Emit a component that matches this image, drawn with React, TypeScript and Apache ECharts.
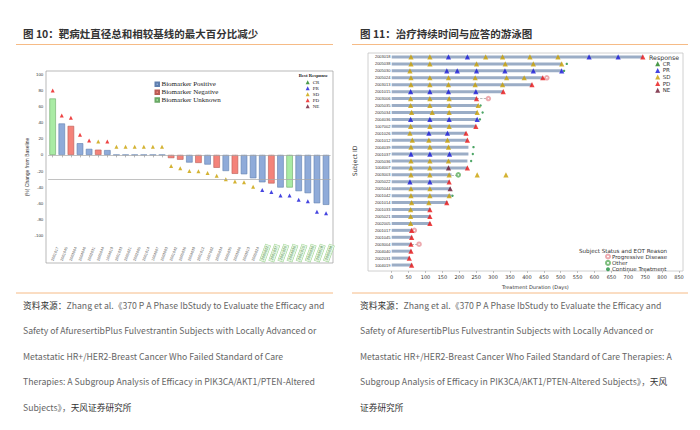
import React, { useEffect, useRef } from "react";
import * as echarts from "echarts";

// ---------- Figure 10: waterfall ----------
const waterfallIds = [
  "2001017", "2001045", "2003004", "2004040", "2002031", "2005044", "1004019",
  "2001033", "2005021", "2002005", "2001014", "1004007", "2003003", "2001042",
  "2005036", "2004039", "2001012", "1007002", "2005034", "2005035", "2003006",
  "2003013", "2005024", "2005022", "2001037", "2001026", "2004036", "2001015",
  "2005030", "2003018", "2005038",
];
const waterfallChange = [
  70, 39, 36, 14.5, 7.5, 6.5, 6, 0, 0, 0, 0, 0, 0, -4, -6, -9.5, -10, -12, -16,
  -20, -23.5, -24, -29, -34, -35.5, -40.5, -40.5, -45, -47.5, -60, -62,
];
const biomarkerStatus = [
  "Unknown", "Positive", "Negative", "Positive", "Positive", "Negative", "Positive",
  "Positive", "Positive", "Positive", "Positive", "Positive", "Positive",
  "Negative", "Negative", "Positive", "Negative", "Positive", "Negative", "Positive",
  "Negative", "Positive", "Positive", "Positive", "Negative", "Positive", "Unknown",
  "Positive", "Positive", "Positive", "Positive",
];
const bestResponse = [
  "PD", "PD", "PD", "PD", "PD", "SD", "PD", "SD", "SD", "SD", "SD", "SD", "SD",
  "SD", "SD", "SD", "SD", "SD", "SD", "SD", "SD", "SD", "SD",
  "PR", "PR", "PR", "PR", "PR", "PR", "PR", "PR",
];
const responseMarkY = [
  80, 49, 46, 25, 18, 16.5, 16.5, 10, 10, 10, 10, 10, 10, -13.7, -16.6, -19.9,
  -20.3, -22.4, -26, -30.2, -33.1, -34, -39.4, -43.5, -46, -50.5, -50.5, -55.5,
  -57.6, -70.4, -72.5,
];
const referenceLines = [0, -30];

// ---------- Figure 11: swimmer ----------
const subjectIds = [
  "2003018", "2005038", "2005030", "2005024", "2003013", "2001015", "2003006",
  "2005035", "2005034", "2004036", "1007002", "2001026", "2001012", "2004039",
  "2001037", "2005036", "1004007", "2003003", "2005022", "2005044", "2001042",
  "2001014", "2001033", "2005021", "2002005", "2001017", "2001045", "2003004",
  "2004040", "2002031", "1004019",
];
const treatmentDays = [
  743, 503, 503, 447, 415, 330, 251, 256, 253, 253, 249, 220, 224, 227, 227, 224,
  224, 177, 172, 175, 177, 165, 115, 115, 115, 61, 61, 59, 59, 54, 61,
];
const crMarks: [string, number][] = [];
const prMarks: [string, number][] = [
  ["2003018", 168], ["2003018", 224], ["2003018", 584], ["2003018", 670],
  ["2005030", 163], ["2005030", 194], ["2005030", 251], ["2005030", 335], ["2005030", 419], ["2005030", 503],
  ["2001015", 56], ["2001015", 113], ["2001015", 168], ["2001015", 249],
  ["2004036", 56], ["2004036", 113], ["2004036", 170], ["2004036", 253],
  ["2001026", 110], ["2001026", 165],
  ["2001037", 57], ["2001037", 113], ["2001037", 171],
  ["2005022", 54], ["2005022", 113],
];
const sdMarks: [string, number][] = [
  ["2003018", 57], ["2003018", 113], ["2003018", 278], ["2003018", 328], ["2003018", 409], ["2003018", 492],
  ["2005038", 57], ["2005038", 113], ["2005038", 251], ["2005038", 336], ["2005038", 419], ["2005038", 503],
  ["2005030", 54],
  ["2005024", 57], ["2005024", 113], ["2005024", 168], ["2005024", 247], ["2005024", 340], ["2005024", 392],
  ["2003013", 57], ["2003013", 113], ["2003013", 168], ["2003013", 247], ["2003013", 328],
  ["2003006", 56], ["2003006", 113], ["2003006", 170],
  ["2005035", 56], ["2005035", 113], ["2005035", 170], ["2005035", 256],
  ["2005034", 59], ["2005034", 120], ["2005034", 170], ["2005034", 253],
  ["1007002", 56], ["1007002", 113], ["1007002", 170],
  ["2001026", 54],
  ["2001012", 61], ["2001012", 110], ["2001012", 165],
  ["2004039", 57], ["2004039", 113], ["2004039", 168],
  ["2005036", 57], ["2005036", 113], ["2005036", 168],
  ["1004007", 57], ["1004007", 113],
  ["2003003", 57], ["2003003", 113], ["2003003", 170], ["2003003", 253], ["2003003", 338],
  ["2005044", 57], ["2005044", 113],
  ["2001042", 57], ["2001042", 113], ["2001042", 170],
  ["2001014", 59], ["2001014", 110],
  ["2001033", 56], ["2005021", 56], ["2002005", 56],
];
const pdMarks: [string, number][] = [
  ["2003018", 743], ["2005024", 447], ["2003013", 415], ["2001015", 330],
  ["2003006", 251], ["1007002", 249], ["2001026", 220], ["2001012", 224],
  ["1004007", 224], ["2005022", 170], ["2001014", 163], ["2001033", 113],
  ["2005021", 113], ["2002005", 113], ["2001017", 59], ["2001045", 59],
  ["2003004", 57], ["2004040", 57], ["2002031", 52], ["1004019", 59],
];
const neMarks: [string, number][] = [["1004007", 168], ["2005044", 173]];
const eotProgressive: [string, number][] = [
  ["2005024", 459], ["2003006", 286], ["2001017", 67], ["2003004", 81],
];
const eotOther: [string, number][] = [["2003003", 197]];
const eotContinue: [string, number][] = [
  ["2005038", 518], ["2005030", 510], ["2005035", 263], ["2005034", 269],
  ["2004036", 261], ["2004039", 242], ["2001037", 240], ["2005036", 235],
  ["2001042", 180],
];
const dashedGaps: [string, number, number][] = [
  ["2005024", 447, 459], ["2003006", 251, 286], ["2003003", 177, 197],
  ["2001017", 61, 67], ["2003004", 59, 81],
];
const durationMax = 850;
const durationStep = 50;

const responseTypes = ["CR", "PR", "SD", "PD", "NE"];
const eotTypes = ["Progressive Disease", "Other", "Continue Treatment"];
const biomarkerTypes = ["Positive", "Negative", "Unknown"];

const sourceLeft = [
  "{a|资料来源：}{b|Zhang et al.《370 P A Phase IbStudy to Evaluate the Efficacy and}",
  "{b|Safety of AfuresertibPlus Fulvestrantin Subjects with Locally Advanced or}",
  "{b|Metastatic HR+/HER2-Breast Cancer Who Failed Standard of Care}",
  "{b|Therapies: A Subgroup Analysis of Efficacy in PIK3CA/AKT1/PTEN-Altered}",
  "{b|Subjects》，}{a|天风证券研究所}",
];
const sourceRight = [
  "{a|资料来源：}{b|Zhang et al.《370 P A Phase IbStudy to Evaluate the Efficacy and}",
  "{b|Safety of AfuresertibPlus Fulvestrantin Subjects with Locally Advanced or}",
  "{b|Metastatic HR+/HER2-Breast Cancer Who Failed Standard of Care Therapies: A}",
  "{b|Subgroup Analysis of Efficacy in PIK3CA/AKT1/PTEN-Altered Subjects》，}{a|天风}",
  "{a|证券研究所}",
];

const RC: Record<string, string> = {
  CR: "#1b7f1b",
  PR: "#1616d8",
  SD: "#c9a000",
  PD: "#ea1414",
  NE: "#6b1530",
};
const BC: Record<string, [string, string]> = {
  Positive: ["#8fabd9", "#5f7fae"],
  Negative: ["#f4837a", "#b85c55"],
  Unknown: ["#a9eba4", "#6aa866"],
};

function buildOption() {
  const rowOf = (id: string) => subjectIds.indexOf(id);
  const toPts = (arr: [string, number][]) => arr.map(([id, d]) => [d, rowOf(id)]);
  const swimMarks: Record<string, [string, number][]> = {
    CR: crMarks, PR: prMarks, SD: sdMarks, PD: pdMarks, NE: neMarks,
  };

  const series: any[] = [];
  biomarkerTypes.forEach((t, k) => {
    series.push({
      name: "Biomarker " + t,
      type: "bar",
      xAxisIndex: 0,
      yAxisIndex: 0,
      barWidth: 6.5,
      barGap: "-100%",
      itemStyle: { color: BC[t][0], borderColor: BC[t][1], borderWidth: 0.6 },
      data: waterfallChange.map((v, i) => (biomarkerStatus[i] === t ? v : "-")),
      markLine:
        k === 0
          ? {
              silent: true,
              symbol: "none",
              label: { show: false },
              lineStyle: { color: "#a8a8a8", width: 0.7, type: "solid" },
              data: referenceLines.map((y) => ({ yAxis: y })),
            }
          : undefined,
    });
  });
  ["PR", "SD", "PD"].forEach((t) => {
    series.push({
      name: t,
      type: "scatter",
      xAxisIndex: 0,
      yAxisIndex: 0,
      symbol: "triangle",
      symbolSize: 4,
      itemStyle: { color: RC[t] },
      data: bestResponse
        .map((r, i) => (r === t ? [i, responseMarkY[i]] : null))
        .filter((p) => p !== null),
    });
  });
  series.push({
    name: "duration",
    type: "bar",
    xAxisIndex: 1,
    yAxisIndex: 1,
    barWidth: 3,
    itemStyle: { color: "#9badc6" },
    data: treatmentDays,
  });
  series.push({
    name: "gap",
    type: "lines",
    coordinateSystem: "cartesian2d",
    xAxisIndex: 1,
    yAxisIndex: 1,
    symbol: "none",
    lineStyle: { color: "#8a8a8a", width: 0.6, type: "dashed", opacity: 1 },
    data: dashedGaps.map(([id, a, b]) => ({ coords: [[a, rowOf(id)], [b, rowOf(id)]] })),
  });
  series.push({
    name: "Progressive Disease",
    type: "scatter",
    xAxisIndex: 1,
    yAxisIndex: 1,
    symbol: "emptyCircle",
    symbolSize: 3.5,
    itemStyle: { color: "#e9959b", borderWidth: 0.8 },
    data: toPts(eotProgressive),
  });
  series.push({
    name: "Other",
    type: "scatter",
    xAxisIndex: 1,
    yAxisIndex: 1,
    symbol: "emptyCircle",
    symbolSize: 3.5,
    itemStyle: { color: "#5fae5f", borderWidth: 0.8 },
    data: toPts(eotOther),
  });
  series.push({
    name: "Continue Treatment",
    type: "scatter",
    xAxisIndex: 1,
    yAxisIndex: 1,
    symbol: "circle",
    symbolSize: 2.4,
    itemStyle: { color: "#1f8f3f" },
    data: toPts(eotContinue),
  });
  responseTypes.forEach((t) => {
    series.push({
      name: t,
      type: "scatter",
      xAxisIndex: 1,
      yAxisIndex: 1,
      symbol: "triangle",
      symbolSize: 5.2,
      itemStyle: { color: RC[t] },
      data: toPts(swimMarks[t]),
    });
  });

  const srcText = (lines: string[], x: number) =>
    lines.map((t, i) => ({
      type: "text",
      x,
      y: 305 + i * 25.5,
      silent: true,
      style: {
        text: t,
        verticalAlign: "middle",
        align: "left",
        rich: {
          a: { fontSize: 8.7, fontFamily: "Noto Sans CJK SC", fill: "#333", color: "#333" },
          b: { fontSize: 8.7, fontFamily: "Noto Sans CJK SC", fill: "#666", color: "#666" },
        },
      },
    }));

  const graphic: any[] = [
    {
      type: "text", x: 23, y: 33.5, silent: true,
      style: { text: "图 10：靶病灶直径总和相较基线的最大百分比减少", font: 'bold 10.5px "Noto Sans CJK SC"', fill: "#333", verticalAlign: "middle" },
    },
    {
      type: "text", x: 360, y: 33.5, silent: true,
      style: { text: "图 11：治疗持续时间与应答的游泳图", font: 'bold 10.5px "Noto Sans CJK SC"', fill: "#333", verticalAlign: "middle" },
    },
    { type: "line", silent: true, shape: { x1: 16, y1: 44.5, x2: 333, y2: 44.5 }, style: { stroke: "#f6bb86", lineWidth: 1 } },
    { type: "line", silent: true, shape: { x1: 352, y1: 44.5, x2: 688, y2: 44.5 }, style: { stroke: "#f6bb86", lineWidth: 1 } },
    { type: "line", silent: true, shape: { x1: 16, y1: 293, x2: 333, y2: 293 }, style: { stroke: "#f6bb86", lineWidth: 1 } },
    { type: "line", silent: true, shape: { x1: 352, y1: 293, x2: 688, y2: 293 }, style: { stroke: "#f6bb86", lineWidth: 1 } },
    { type: "rect", silent: true, z: -1, shape: { x: 46, y: 71, width: 287, height: 192 }, style: { fill: "none", stroke: "#9c9c9c", lineWidth: 0.7 } },
    { type: "rect", silent: true, z: -1, shape: { x: 368, y: 53, width: 315, height: 218 }, style: { fill: "none", stroke: "#c4c4c4", lineWidth: 0.8 } },
    {
      type: "text", x: 313.3, y: 75.7, silent: true,
      style: { text: "Best Response", font: 'bold 4.8px "Liberation Serif"', fill: "#222", align: "center", verticalAlign: "middle" },
    },
    {
      type: "text", x: 26.7, y: 167, rotation: Math.PI / 2, silent: true,
      style: { text: "(%) Change from Baseline", font: '5px "Liberation Sans"', fill: "#333", align: "center", verticalAlign: "middle" },
    },
    {
      type: "text", x: 649, y: 57.3, silent: true,
      style: { text: "Response", font: '6.3px "DejaVu Sans"', fill: "#333", verticalAlign: "middle" },
    },
    {
      type: "text", x: 579, y: 250.7, silent: true,
      style: { text: "Subject Status and EOT Reason", font: '5.6px "DejaVu Sans"', fill: "#333", verticalAlign: "middle" },
    },
    ...srcText(sourceLeft, 23),
    ...srcText(sourceRight, 360),
  ];

  return {
    animation: false,
    backgroundColor: "#fff",
    textStyle: { fontFamily: "Liberation Sans" },
    grid: [
      { left: 48.1, top: 74.3, width: 282.5, height: 161.2 },
      { left: 391.7, top: 53.5, width: 287.3, height: 215 },
    ],
    xAxis: [
      {
        gridIndex: 0,
        type: "category",
        data: waterfallIds,
        offset: 27.5,
        axisLine: { show: false },
        axisTick: { show: true, alignWithLabel: true, length: 2.5, lineStyle: { color: "#777", width: 0.5 } },
        axisLabel: {
          inside: true,
          rotate: 70,
          interval: 0,
          fontSize: 3.8,
          color: "#555",
          margin: 2,
          formatter: (v: string, i: number) => (bestResponse[i] === "PR" ? `{hl|${v}}` : v),
          rich: {
            hl: {
              fontSize: 3.8,
              color: "#4f8f4f",
              backgroundColor: "#e8f6e4",
              borderColor: "#9bd490",
              borderWidth: 0.5,
              padding: [0.5, 1],
            },
          },
        },
        splitLine: { show: false },
      },
      {
        gridIndex: 1,
        type: "value",
        min: 0,
        max: durationMax,
        interval: durationStep,
        offset: 2.5,
        axisLine: { show: false },
        axisTick: { show: true, length: 2, lineStyle: { color: "#888", width: 0.5 } },
        axisLabel: { fontSize: 5, color: "#333", margin: 3, fontFamily: "DejaVu Sans" },
        splitLine: { show: false },
        name: "Treatment Duration (Days)",
        nameLocation: "middle",
        nameGap: 13.5,
        nameTextStyle: { fontSize: 5, color: "#333", fontFamily: "DejaVu Sans" },
      },
    ],
    yAxis: [
      {
        gridIndex: 0,
        type: "value",
        min: -100,
        max: 100,
        interval: 20,
        axisLine: { show: false },
        axisTick: { show: false },
        splitLine: { show: false },
        axisLabel: { fontSize: 4.4, color: "#333", margin: 4.8 },
      },
      {
        gridIndex: 1,
        type: "category",
        data: subjectIds,
        inverse: true,
        axisLine: { show: false },
        axisTick: { show: false },
        axisLabel: { fontSize: 4, color: "#333", margin: 1.2, interval: 0 },
        name: "Subject ID",
        nameLocation: "middle",
        nameGap: 34.7,
        nameRotate: 90,
        nameTextStyle: { fontSize: 6, color: "#333", fontFamily: "DejaVu Sans" },
      },
    ],
    legend: [
      {
        data: biomarkerTypes.map((t) => "Biomarker " + t),
        orient: "vertical",
        left: 154.5,
        top: 80.8,
        padding: 0,
        icon: "rect",
        itemWidth: 3.5,
        itemHeight: 3.5,
        itemGap: 0.9,
        selectedMode: false,
        textStyle: { fontSize: 7, lineHeight: 7, fontFamily: "Liberation Serif", color: "#222", padding: [0, 0, 0, -2.5] },
      },
      {
        data: responseTypes,
        orient: "vertical",
        left: 305.7,
        top: 79.8,
        padding: 0,
        itemWidth: 4,
        itemHeight: 4,
        itemGap: 1,
        selectedMode: false,
        textStyle: { fontSize: 5, lineHeight: 5, fontFamily: "Liberation Serif", color: "#222", padding: [0, 0, 0, -2] },
      },
      {
        data: responseTypes,
        orient: "vertical",
        left: 655.2,
        top: 60.8,
        padding: 0,
        itemWidth: 5,
        itemHeight: 5,
        itemGap: 0.6,
        selectedMode: false,
        textStyle: { fontSize: 5.5, lineHeight: 5, fontFamily: "DejaVu Sans", color: "#333", padding: [0, 0, 0, -2.5] },
      },
      {
        data: eotTypes,
        orient: "vertical",
        left: 605,
        top: 253.5,
        padding: 0,
        itemWidth: 4,
        itemHeight: 4,
        itemGap: 0.4,
        selectedMode: false,
        textStyle: { fontSize: 5.5, lineHeight: 4.6, fontFamily: "DejaVu Sans", color: "#333", padding: [0, 0, 0, -3] },
      },
    ],
    series,
    graphic,
  };
}

export default function App() {
  const ref = useRef<HTMLDivElement>(null);
  useEffect(() => {
    document.body.style.margin = "0";
    const chart = echarts.init(ref.current!, null, { renderer: "svg" });
    chart.setOption(buildOption() as any);
    return () => chart.dispose();
  }, []);
  return (
    <div
      ref={ref}
      style={{ position: "fixed", left: 0, top: 0, width: 700, height: 430, background: "#fff" }}
    />
  );
}
